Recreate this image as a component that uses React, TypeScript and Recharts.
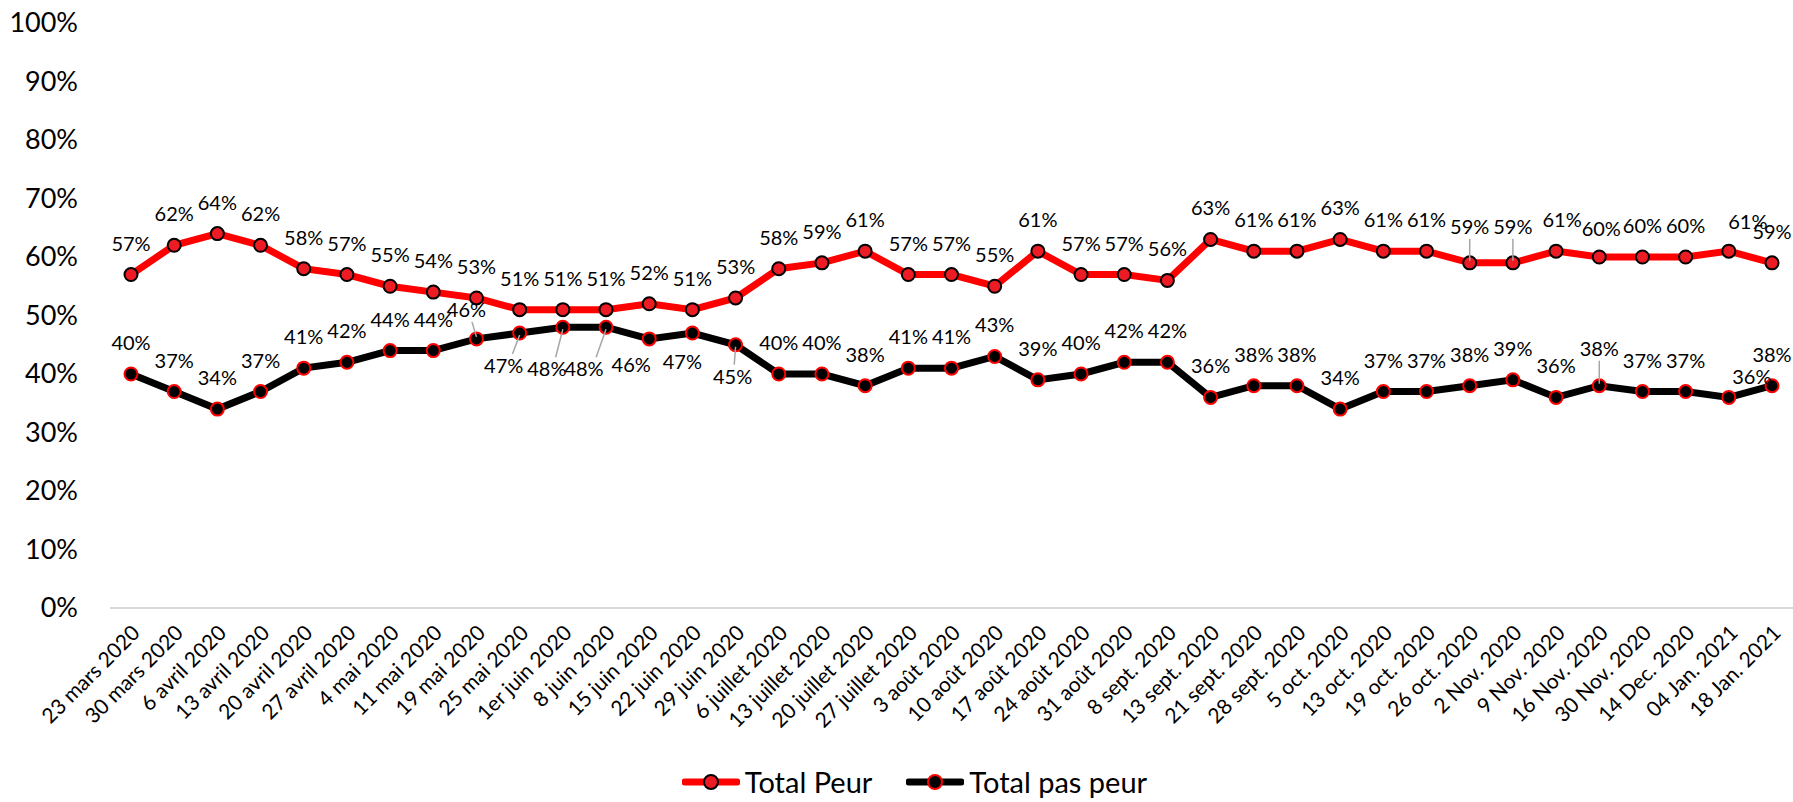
import { LineChart, Line, XAxis, YAxis, CartesianGrid, Legend, LabelList } from "recharts";

const dates = [
  "23 mars 2020", "30 mars 2020", "6 avril 2020", "13 avril 2020", "20 avril 2020", "27 avril 2020",
  "4 mai 2020", "11 mai 2020", "19 mai 2020", "25 mai 2020", "1er juin 2020", "8 juin 2020",
  "15 juin 2020", "22 juin 2020", "29 juin 2020", "6 juillet 2020", "13 juillet 2020", "20 juillet 2020",
  "27 juillet 2020", "3 août 2020", "10 août 2020", "17 août 2020", "24 août 2020", "31 août 2020",
  "8 sept. 2020", "13 sept. 2020", "21 sept. 2020", "28 sept. 2020", "5 oct. 2020", "13 oct. 2020",
  "19 oct. 2020", "26 oct. 2020", "2 Nov. 2020", "9 Nov. 2020", "16 Nov. 2020", "30 Nov. 2020",
  "14 Dec. 2020", "04 Jan. 2021", "18 Jan. 2021",
];

const totalPeur = [
  57, 62, 64, 62, 58, 57, 55, 54, 53, 51, 51, 51, 52, 51, 53, 58, 59, 61, 57, 57,
  55, 61, 57, 57, 56, 63, 61, 61, 63, 61, 61, 59, 59, 61, 60, 60, 60, 61, 59,
];

const totalPasPeur = [
  40, 37, 34, 37, 41, 42, 44, 44, 46, 47, 48, 48, 46, 47, 45, 40, 40, 38, 41, 41,
  43, 39, 40, 42, 42, 36, 38, 38, 34, 37, 37, 38, 39, 36, 38, 37, 37, 36, 38,
];

const yTicks = [0, 10, 20, 30, 40, 50, 60, 70, 80, 90, 100];

const data = dates.map((d, i) => ({ date: d, peur: totalPeur[i], pasPeur: totalPasPeur[i] }));

const FONT = "Lato, 'Open Sans', sans-serif";

// label placement tweaks (dx, dy of label centre, leader line)
const peurPos: Record<number, [number, number, boolean?]> = {
  31: [0, -36, true],
  32: [0, -36, true],
  33: [6, -31],
  34: [2, -28],
  37: [19, -29],
};
const pasPeurPos: Record<number, [number, number, boolean?]> = {
  8: [-10, -29, true],
  9: [-16, 33, true],
  10: [-16, 42, true],
  11: [-22, 42, true],
  12: [-18, 26],
  13: [-10, 29],
  14: [-3, 32, true],
  34: [0, -37, true],
  37: [23, -20],
};

function makeLabel(pos: Record<number, [number, number, boolean?]>) {
  return (props: any) => {
    const { x, y, value, index } = props;
    const [dx, dy, leader] = pos[index] ?? [0, -31];
    const lx = x + dx;
    const ly = y + dy;
    return (
      <g>
        {leader && (
          <line
            x1={x + dx * 0.45}
            y1={ly + (dy > 0 ? -12 : 12)}
            x2={x}
            y2={y + (dy > 0 ? 2 : -2)}
            stroke="#A6A6A6"
            strokeWidth={1.5}
          />
        )}
        <text x={lx} y={ly} dy="0.35em" textAnchor="middle" fontSize={20} fontFamily={FONT} fill="#000">
          {value}%
        </text>
      </g>
    );
  };
}

function DateTick(props: any) {
  const { x, y, payload } = props;
  return (
    <text
      transform={`translate(${x + 5},${y + 13}) rotate(-45)`}
      textAnchor="end"
      dy="0.35em"
      fontSize={21}
      fontFamily={FONT}
      fill="#000"
    >
      {payload.value}
    </text>
  );
}

function PctTick(props: any) {
  const { x, y, payload } = props;
  return (
    <text x={x} y={y} dy="0.35em" textAnchor="end" fontSize={27} fontFamily={FONT} fill="#000">
      {payload.value}%
    </text>
  );
}

function LegendBox() {
  const items = [
    { name: "Total Peur", line: "#FF0000", fill: "#ED1C24", ring: "#000" },
    { name: "Total pas peur", line: "#000", fill: "#000", ring: "#FF0000" },
  ];
  return (
    <div style={{ display: "flex", justifyContent: "center", gap: 34, fontFamily: FONT, fontSize: 29, paddingLeft: 36 }}>
      {items.map((it) => (
        <div key={it.name} style={{ display: "flex", alignItems: "center", gap: 5 }}>
          <svg width={58} height={18}>
            <line x1={3} y1={9} x2={55} y2={9} stroke={it.line} strokeWidth={7} strokeLinecap="round" />
            <circle cx={29} cy={9} r={7} fill={it.fill} stroke={it.ring} strokeWidth={2} />
          </svg>
          <span>{it.name}</span>
        </div>
      ))}
    </div>
  );
}

export default function App() {
  return (
    <div style={{ position: "absolute", left: 0, top: 0, background: "#fff" }}>
      <LineChart width={1793} height={802} data={data} margin={{ top: 23, right: 0, left: 0, bottom: 0 }}>
        <CartesianGrid horizontal={false} vertical={false} />
        <XAxis
          dataKey="date"
          interval={0}
          height={156}
          padding={{ left: 21, right: 21 }}
          tick={<DateTick />}
          tickLine={false}
          axisLine={{ stroke: "#D9D9D9", strokeWidth: 2 }}
        />
        <YAxis
          domain={[0, 100]}
          ticks={yTicks}
          width={110}
          tick={<PctTick />}
          tickLine={false}
          axisLine={false}
          tickMargin={26}
        />
        <Legend verticalAlign="bottom" height={38} content={<LegendBox />} />
        <Line
          dataKey="peur"
          name="Total Peur"
          stroke="#FF0000"
          strokeWidth={7}
          dot={{ r: 6.5, fill: "#ED1C24", stroke: "#000", strokeWidth: 2 }}
          isAnimationActive={false}
        >
          <LabelList dataKey="peur" content={makeLabel(peurPos)} />
        </Line>
        <Line
          dataKey="pasPeur"
          name="Total pas peur"
          stroke="#000"
          strokeWidth={7}
          dot={{ r: 6.5, fill: "#000", stroke: "#FF0000", strokeWidth: 2 }}
          isAnimationActive={false}
        >
          <LabelList dataKey="pasPeur" content={makeLabel(pasPeurPos)} />
        </Line>
      </LineChart>
    </div>
  );
}
